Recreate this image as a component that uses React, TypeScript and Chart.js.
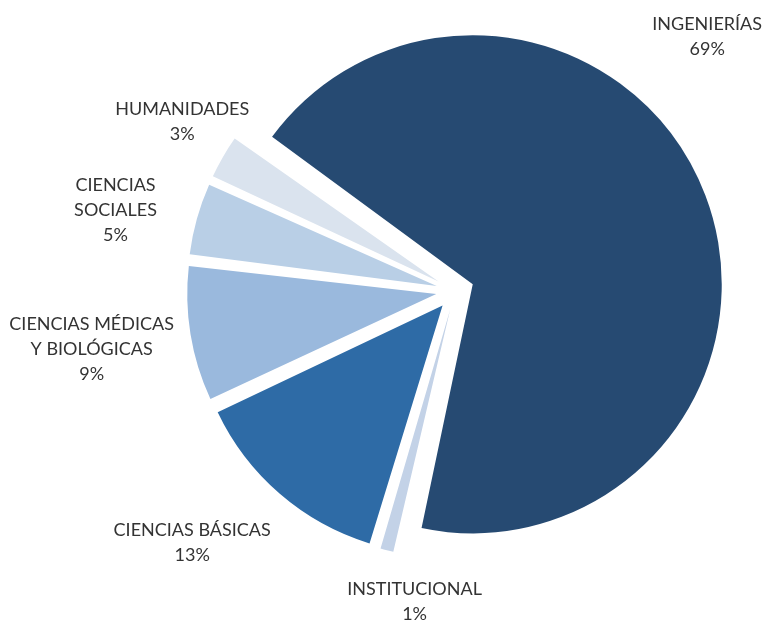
import React, { useEffect, useRef } from "react";
import { Chart, registerables } from "chart.js";

Chart.register(...registerables);

// ---- data ----
const categories: string[][] = [
  ["INGENIERÍAS"],
  ["INSTITUCIONAL"],
  ["CIENCIAS BÁSICAS"],
  ["CIENCIAS MÉDICAS", "Y BIOLÓGICAS"],
  ["CIENCIAS", "SOCIALES"],
  ["HUMANIDADES"],
];
const values = [68.6, 1.2, 13.3, 8.9, 4.9, 3.1];

// ---- styles / layout ----
const sliceColors = ["#264A72", "#C3D2E7", "#2E6BA6", "#9AB9DD", "#B9CFE6", "#DAE3EE"];
const labelAngleShift = [-24.3, -7.3, 5.4, 0.1, -2.2, 1.8]; // degrees off slice bisector
const labelDistance = [358, 313, 364, 368, 349, 321]; // px from pie centre
const LINE_HEIGHT = 25;
const FONT = "18px Lato, 'Noto Sans', sans-serif";
const EXPLODE_PX = 19; // Chart.js v4 divides arc offset by 4
const PIE_RADIUS = 249;

// Chart.js enlarges exploded arcs by offset*(1-sin(circumference)); undo that so every slice keeps the same radius
const equalRadiusPlugin = {
  id: "equalRadius",
  beforeDatasetsDraw(chart: any) {
    const meta = chart.getDatasetMeta(0);
    meta.data.forEach((arc: any) => {
      const off = (arc.options.offset || 0) / 4;
      const fix = 1 - Math.sin(Math.min(Math.PI, arc.circumference || 0));
      arc._origOuter = arc.outerRadius;
      arc.outerRadius = arc.outerRadius - off * fix;
    });
  },
  afterDatasetsDraw(chart: any) {
    const meta = chart.getDatasetMeta(0);
    meta.data.forEach((arc: any) => {
      if (arc._origOuter !== undefined) arc.outerRadius = arc._origOuter;
    });
  },
};

const labelPlugin = {
  id: "pieLabels",
  afterDatasetsDraw(chart: any) {
    const ctx = chart.ctx;
    const meta = chart.getDatasetMeta(0);
    const data = chart.data.datasets[0].data as number[];
    const total = data.reduce((a, b) => a + b, 0);
    ctx.save();
    ctx.font = FONT;
    ctx.fillStyle = "#333333";
    ctx.textAlign = "center";
    ctx.textBaseline = "middle";
    meta.data.forEach((arc: any, i: number) => {
      const p = arc.getProps(["x", "y", "startAngle", "endAngle"], true);
      const mid = (p.startAngle + p.endAngle) / 2 + (labelAngleShift[i] * Math.PI) / 180;
      const cx = p.x + labelDistance[i] * Math.cos(mid);
      const cy = p.y + labelDistance[i] * Math.sin(mid);
      const pct = Math.round((data[i] / total) * 100);
      const lines = [...categories[i], pct + "%"];
      lines.forEach((l, j) => {
        ctx.fillText(l, cx, cy + (j - (lines.length - 1) / 2) * LINE_HEIGHT);
      });
    });
    ctx.restore();
  },
};

export default function App() {
  const ref = useRef<HTMLCanvasElement | null>(null);
  useEffect(() => {
    if (!ref.current) return;
    const chart = new Chart(ref.current, {
      type: "pie",
      data: {
        labels: categories.map((c) => c.join(" ")),
        datasets: [
          {
            data: values,
            backgroundColor: sliceColors,
            borderWidth: 0,
            offset: EXPLODE_PX * 4,
            hoverOffset: 0,
          },
        ],
      },
      options: {
        responsive: false,
        animation: false,
        radius: PIE_RADIUS,
        rotation: -54.4,
        layout: { padding: { left: 145, right: 0, top: 0, bottom: 39 } },
        plugins: {
          legend: { display: false },
          tooltip: { enabled: false },
        },
      },
      plugins: [equalRadiusPlugin, labelPlugin],
    });
    return () => chart.destroy();
  }, []);
  return (
    <div style={{ position: "absolute", left: 0, top: 0, width: 765, height: 621, background: "#fff" }}>
      <canvas ref={ref} width={765} height={621} />
    </div>
  );
}
